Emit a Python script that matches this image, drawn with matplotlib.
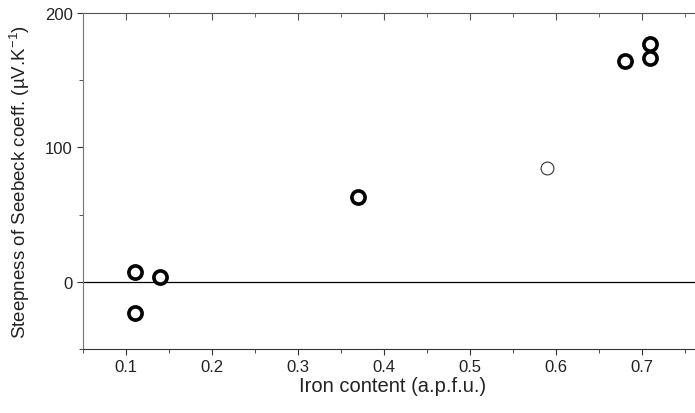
import numpy as np
import matplotlib.pyplot as plt
from matplotlib.ticker import MultipleLocator

plt.rcParams['font.family'] = ['Liberation Sans', 'DejaVu Sans']
plt.rcParams['mathtext.fontset'] = 'custom'
plt.rcParams['mathtext.rm'] = 'Liberation Sans'
plt.rcParams['mathtext.it'] = 'Liberation Sans'

# thick circles (main series)
iron = [0.11, 0.14, 0.11, 0.37, 0.68, 0.71, 0.71]
steep = [7, 3.5, -23, 63, 164.5, 177, 166.5]

# thin open circle
iron_open = [0.59]
steep_open = [85]

fig = plt.figure(figsize=(6.95, 4.14), dpi=100)
ax = fig.add_axes([0.1194, 0.1546, 0.8906, 0.8116])

ax.axhline(0, color='black', lw=0.9, zorder=1)
ax.scatter(iron, steep, s=90, facecolors='white', edgecolors='black',
           linewidths=2.6, zorder=3)
ax.scatter(iron_open, steep_open, s=85, facecolors='white', edgecolors='#333333',
           linewidths=0.8, zorder=3)

ax.set_xlim(0.05, 0.77)
ax.set_ylim(-50, 200)

ax.xaxis.set_major_locator(MultipleLocator(0.1))
ax.xaxis.set_minor_locator(MultipleLocator(0.05))
ax.yaxis.set_major_locator(MultipleLocator(100))
ax.yaxis.set_minor_locator(MultipleLocator(50))
ax.xaxis.set_major_formatter(plt.FuncFormatter(lambda v, p: '%.1f' % v))

ax.tick_params(axis='both', which='both', direction='out', labelsize=12,
               colors='#333333', labelcolor='#222222')
ax.tick_params(which='major', length=4)
ax.tick_params(which='minor', length=3)

# top axis ticks inward, no labels
top = ax.secondary_xaxis('top')
top.xaxis.set_major_locator(MultipleLocator(0.1))
top.xaxis.set_minor_locator(MultipleLocator(0.05))
top.tick_params(which='both', direction='in', labeltop=False, colors='#555555')
top.tick_params(which='major', length=5)
top.tick_params(which='minor', length=3)
top.spines['top'].set_color('#555555')

ax.spines['right'].set_visible(False)
ax.spines['top'].set_visible(False)
ax.spines['left'].set_color('#777777')
ax.spines['bottom'].set_color('#333333')

ax.set_xlabel('Iron content (a.p.f.u.)', fontsize=14.5, color='#222222', labelpad=1)
ax.set_ylabel('Steepness of Seebeck coeff. (µV.K$^{-1}$)', fontsize=13.5,
              color='#222222', labelpad=9)

fig.savefig('out.png', dpi=100)
